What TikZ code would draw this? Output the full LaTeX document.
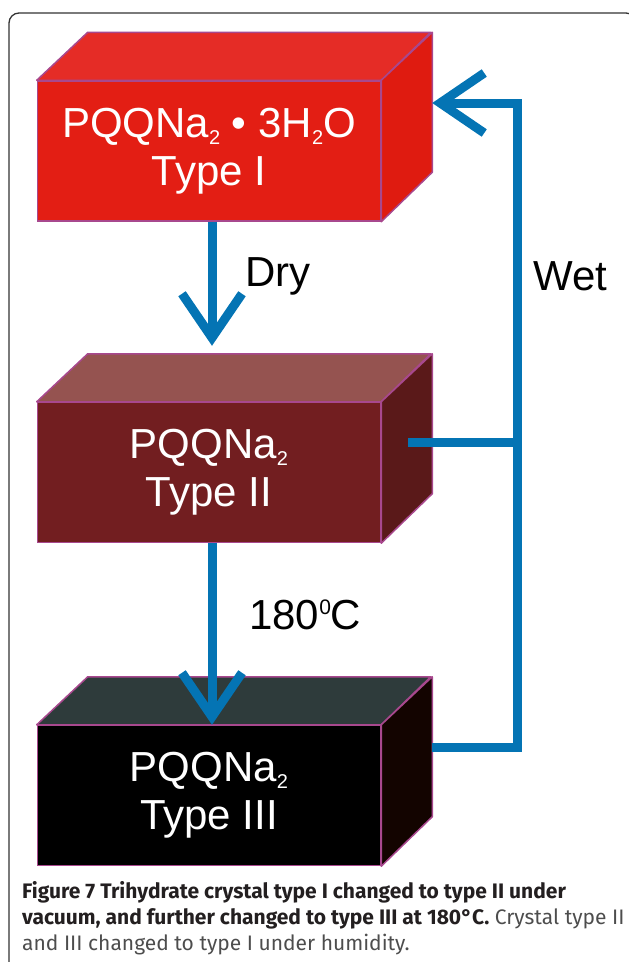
\documentclass[tikz,border=0pt]{standalone}
\usepackage{fontspec}
\setmainfont{Liberation Sans}
\newfontfamily\capfont{Fira Sans}
\usetikzlibrary{arrows.meta}
\definecolor{redfront}{HTML}{E31E14}
\definecolor{redtop}{HTML}{E52C26}
\definecolor{redside}{HTML}{DF1B10}
\definecolor{brownfront}{HTML}{721E20}
\definecolor{browntop}{HTML}{955350}
\definecolor{brownside}{HTML}{5A1919}
\definecolor{blackfront}{HTML}{000000}
\definecolor{blacktop}{HTML}{2E3B3B}
\definecolor{blackside}{HTML}{130400}
\definecolor{edgepurple}{HTML}{A8488E}
\definecolor{flowblue}{HTML}{0474B4}
\definecolor{framegray}{HTML}{333333}
\definecolor{capdark}{HTML}{231F20}
\definecolor{capgray}{HTML}{4D4D4D}
\newcommand{\lowtwo}{\raisebox{-7pt}{\fontsize{20}{20}\selectfont 2}}
\newcommand{\hizero}{\raisebox{15pt}{\fontsize{21}{21}\selectfont 0}}

\begin{document}
\begin{tikzpicture}[
    x=1pt, y=-1pt,
    crystal/.style={
        rectangle,
        draw=edgepurple,
        line width=1.5pt,
        minimum width=343pt,
        minimum height=140pt,
        inner sep=0pt,
        text=white,
        align=center,
        font=\fontsize{42}{48}\selectfont
    },
    face/.style={draw=edgepurple, line width=1.5pt, line join=round},
    flow/.style={draw=flowblue, line width=9pt, line join=miter},
    tip/.style={-{Straight Barb[sharp, length=44pt, width=60pt]}},
    label/.style={font=\fontsize{42}{48}\selectfont, anchor=base west, inner sep=0pt}
]
    \useasboundingbox (0,0) rectangle (629,962);
    \clip (0,0) rectangle (629,962);
    \draw[framegray, line width=1.3pt, rounded corners=10pt] (9,13) rectangle (636,990);

    % Type I
    \node[crystal, fill=redfront] (type1) at (209,151) {PQQNa\lowtwo\ • 3H\lowtwo O\\Type I};
    \filldraw[face, fill=redtop] (type1.north west) -- ++(51,-48) -- ++(343,0) -- (type1.north east) -- cycle;
    \filldraw[face, fill=redside] (type1.north east) -- ++(51,-48) -- ++(0,140) -- (type1.south east) -- cycle;

    % Type II
    \node[crystal, fill=brownfront] (type2) at (209,472.5) {PQQNa\lowtwo\\Type II};
    \filldraw[face, fill=browntop] (type2.north west) -- ++(51,-48) -- ++(343,0) -- (type2.north east) -- cycle;
    \filldraw[face, fill=brownside] (type2.north east) -- ++(51,-48) -- ++(0,140) -- (type2.south east) -- cycle;

    % Type III
    \node[crystal, fill=blackfront] (type3) at (209,795.5) {PQQNa\lowtwo\\Type III};
    \filldraw[face, fill=blacktop] (type3.north west) -- ++(51,-48) -- ++(343,0) -- (type3.north east) -- cycle;
    \filldraw[face, fill=blackside] (type3.north east) -- ++(51,-48) -- ++(0,140) -- (type3.south east) -- cycle;

    \coordinate (t1side) at ([shift={(51,-48)}]type1.east);
    \coordinate (t2side) at ([shift={(27,-30)}]type2.east);
    \coordinate (t3side) at ([shift={(51,-48)}]type3.east);
    \coordinate (bend) at ([xshift=85pt]t3side);

    % Arrows
    \draw[flow, tip] ([xshift=3pt]type1.south) -- ([xshift=3pt, yshift=56pt]type2.north);
    \draw[flow, tip] ([xshift=3pt]type2.south) -- ([xshift=3pt]type3.north);
    \draw[flow] (t2side) -- (t2side -| bend);
    \draw[flow, tip] (t3side) -- (bend) |- (t1side);

    % Labels
    \node[label] (dry) at (245,286) {Dry};
    \node[label] (heat) at (249,629) {180\hizero C};
    \node[label] (wet) at (533,290) {Wet};

    % Caption
    \node[anchor=base west, inner sep=0pt, align=left, text=capgray,
          font=\capfont\fontsize{21}{26}\selectfont] (caption) at (22,950)
        {\textcolor{capdark}{\textbf{Figure 7 Trihydrate crystal type I changed to type II under}}\\
         \textcolor{capdark}{\textbf{vacuum, and further changed to type III at 180°C.}} Crystal type II\\
         and III changed to type I under humidity.};
\end{tikzpicture}
\end{document}
